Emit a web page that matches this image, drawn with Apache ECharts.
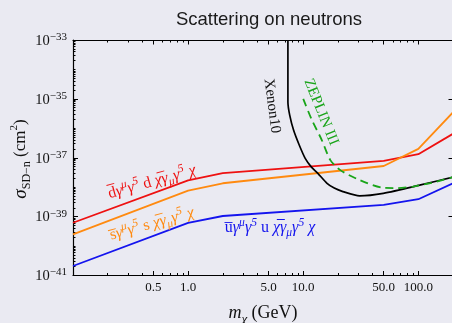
<!DOCTYPE html>
<html><head><meta charset="utf-8">
<script src="https://cdn.jsdelivr.net/npm/echarts@6/dist/echarts.min.js"></script>
<style>html,body{margin:0;padding:0;background:#EAEAF2}#c{width:452px;height:323px}</style>
</head><body><div id="c"></div><script>
// ---------- data (mass in GeV, cross section in cm^2) ----------
const massQuark = [0.1, 1, 2, 50, 100, 200];
const sigmaDown = [6.2e-40, 1.7e-38, 3.0e-38, 7.8e-38, 1.32e-37, 6.5e-37];
const sigmaStrange = [2.5e-40, 7.6e-39, 1.36e-38, 5.25e-38, 2.0e-37, 3.5e-36];
const sigmaUp = [2.1e-41, 6.1e-40, 1.05e-39, 2.5e-39, 3.9e-39, 1.35e-38];
const massXenon = [7.36, 7.36, 7.63, 8.24, 9.23, 10.4, 11.74, 13.4, 16.1, 18.6, 22.1, 30.9, 49.6, 102.6, 200];
const sigmaXenon = [1e-33, 7.9e-36, 2.8e-36, 8.7e-37, 2.7e-37, 9.5e-38, 4.9e-38, 2.95e-38, 1.35e-38, 9.3e-39, 7.1e-39, 5.1e-39, 6.2e-39, 1.17e-38, 2.2e-38];
const massZeplin = [10.0, 11.9, 14.5, 17.2, 21.0, 30.9, 49.3, 65, 89.9, 130, 200];
const sigmaZeplin = [1.0e-35, 1.9e-36, 4.0e-37, 8.3e-38, 3.8e-38, 1.74e-38, 9.5e-39, 9.3e-39, 1.05e-38, 1.4e-38, 2.2e-38];
const xRange = [0.1, 200];
const yRangeExp = [-41, -33];
const xTickLabels = [0.5, 1, 5, 10, 50, 100];
const xMinorTicks = [0.2,0.3,0.4,0.6,0.7,0.8,0.9,2,3,4,6,7,8,9,20,30,40,60,70,80,90,200];
const yTickExps = [-41, -39, -37, -35, -33];
const titleText = 'Scattering on neutrons';
const quarkNames = ['d', 's', 'u'];

// ---------- helpers ----------
const L = Math.log10;
const pts = (ms, ss) => ms.map((m, i) => [L(m), L(ss[i])]);
const yMinor = [];
for (let e = yRangeExp[0]; e < yRangeExp[1]; e++) {
  for (let k = 1; k <= 9; k++) {
    if (k === 1 && yTickExps.includes(e)) continue;
    yMinor.push(e + L(k));
  }
}
const SERIF = '"Liberation Serif","DejaVu Serif",serif';
const INK = '#111';

function xAx(pos, vals, len, main) {
  const a = {
    type: 'value', position: pos, min: L(xRange[0]), max: L(xRange[1]),
    splitLine: {show: false},
    axisLine: {show: !!main, onZero: false, lineStyle: {color: '#000', width: 1.2}},
    axisTick: {show: true, inside: true, length: len, customValues: vals, lineStyle: {color: '#000', width: 1}},
    axisLabel: {show: false}
  };
  if (main === 'label') {
    a.axisLabel = {show: true, customValues: xTickLabels.map(L), margin: 6,
      fontFamily: SERIF, fontSize: 13, color: INK,
      formatter: v => Math.pow(10, v).toFixed(1)};
    a.name = '{m|m}{sub|χ}{n| (GeV)}';
    a.nameLocation = 'middle';
    a.nameGap = 29;
    a.nameTextStyle = {rich: {
      m: {fontFamily: SERIF, fontSize: 18, fontStyle: 'italic', color: INK, lineHeight: 22, verticalAlign: 'top'},
      sub: {fontFamily: SERIF, fontSize: 13, fontStyle: 'italic', color: INK, lineHeight: 14, verticalAlign: 'bottom'},
      n: {fontFamily: SERIF, fontSize: 18, color: INK, lineHeight: 22, verticalAlign: 'top'}
    }};
  }
  return a;
}
function yAx(pos, vals, len, main) {
  const a = {
    type: 'value', position: pos, min: yRangeExp[0], max: yRangeExp[1],
    splitLine: {show: false},
    axisLine: {show: !!main, onZero: false, lineStyle: {color: '#000', width: 1.2}},
    axisTick: {show: true, inside: true, length: len, customValues: vals, lineStyle: {color: '#000', width: 1}},
    axisLabel: {show: false}
  };
  if (main === 'label') {
    a.axisLabel = {show: true, customValues: yTickExps, margin: 6,
      formatter: v => '{b|10}{s|\u2212' + Math.abs(Math.round(v)) + '}',
      rich: {
        b: {fontFamily: SERIF, fontSize: 14.5, color: INK, lineHeight: 17, verticalAlign: 'bottom'},
        s: {fontFamily: SERIF, fontSize: 11, color: INK, lineHeight: 10, verticalAlign: 'top'}
      }};
  }
  return a;
}

function formula(q) {
  return '{l|' + q + '\u0305}{g|γ}{sup|μ}{g|γ}{sup|5}{l| ' + q + ' }{g|χ\u0305γ}{sub|μ}{g|γ}{sup|5}{g| χ}';
}
function richFor(size) {
  return {
    l: {fontFamily: SERIF, fontSize: size, lineHeight: 22, verticalAlign: 'middle'},
    g: {fontFamily: SERIF, fontSize: size, fontStyle: 'italic', lineHeight: 22, verticalAlign: 'middle'},
    sup: {fontFamily: SERIF, fontSize: size * 0.72, fontStyle: 'italic', lineHeight: 10, verticalAlign: 'top'},
    sub: {fontFamily: SERIF, fontSize: size * 0.72, fontStyle: 'italic', lineHeight: 14, verticalAlign: 'bottom'}
  };
}
const yTitleRich = {
  g: {fontFamily: SERIF, fontSize: 19, fontStyle: 'italic', lineHeight: 24, verticalAlign: 'middle'},
  sub: {fontFamily: SERIF, fontSize: 12, lineHeight: 12, verticalAlign: 'bottom'},
  n: {fontFamily: SERIF, fontSize: 17, lineHeight: 24, verticalAlign: 'middle'},
  sup: {fontFamily: SERIF, fontSize: 11, lineHeight: 10, verticalAlign: 'top'}
};
function label(text, x, y, rotDeg, color, rich, size) {
  return {type: 'text', x: x, y: y, rotation: rotDeg * Math.PI / 180, z: 50,
    style: {text: text, fill: color, rich: rich, font: (size || 14) + 'px ' + SERIF,
      align: 'center', verticalAlign: 'middle', textAlign: 'center', textVerticalAlign: 'middle'}};
}

function line(name, data, color, width, dashed, smooth) {
  return {type: 'line', name: name, data: data, xAxisIndex: 0, yAxisIndex: 0,
    showSymbol: false, symbol: 'none', smooth: smooth || false, clip: true, silent: true,
    lineStyle: {color: color, width: width, type: dashed ? [8, 5] : 'solid'}, z: 3};
}

const chart = echarts.init(document.getElementById('c'), null, {renderer: 'canvas'});
chart.setOption({
  animation: false,
  backgroundColor: '#EAEAF2',
  title: {text: titleText, left: 264, top: 5, textAlign: 'center',
    textStyle: {fontFamily: '"Liberation Sans", Arial, sans-serif', fontSize: 18.5, fontWeight: 'normal', color: '#1a1a1a'}},
  grid: {left: 73, top: 40, width: 380, height: 235.5, containLabel: false, outerBoundsMode: 'none'},
  xAxis: [
    xAx('bottom', xTickLabels.map(L), 4.5, 'label'),
    xAx('bottom', xMinorTicks.map(L), 2.5),
    xAx('top', xTickLabels.map(L), 4.5, true),
    xAx('top', xMinorTicks.map(L), 2.5)
  ],
  yAxis: [
    yAx('left', yTickExps, 5, 'label'),
    yAx('left', yMinor, 2.5),
    yAx('right', yTickExps, 4.5, true)
  ],
  series: [
    line('d', pts(massQuark, sigmaDown), '#ee1111', 1.8),
    line('s', pts(massQuark, sigmaStrange), '#ff8a10', 1.8),
    line('u', pts(massQuark, sigmaUp), '#1414ee', 1.8),
    line('Xenon10', pts(massXenon, sigmaXenon), '#000', 1.7, false, 0.25),
    line('ZEPLIN III', pts(massZeplin, sigmaZeplin), '#1aa51a', 1.8, true, 0.25)
  ],
  graphic: [
    label('{g|σ}{sub|SD\u2212n}{n| (cm}{sup|2}{n|)}', 21, 159, 90, INK, yTitleRich, 17),
    label(formula(quarkNames[0]), 152, 182, 15.5, '#ee1111', richFor(16)),
    label(formula(quarkNames[1]), 152, 224, 15.5, '#ff8a10', richFor(16)),
    label(formula(quarkNames[2]), 270, 228, 0, '#1414ee', richFor(16)),
    label('Xenon10', 272, 106, -82.5, '#111', null, 15),
    label('ZEPLIN III', 321, 112, -68, '#1aa51a', null, 15)
  ]
});
</script></body></html>
